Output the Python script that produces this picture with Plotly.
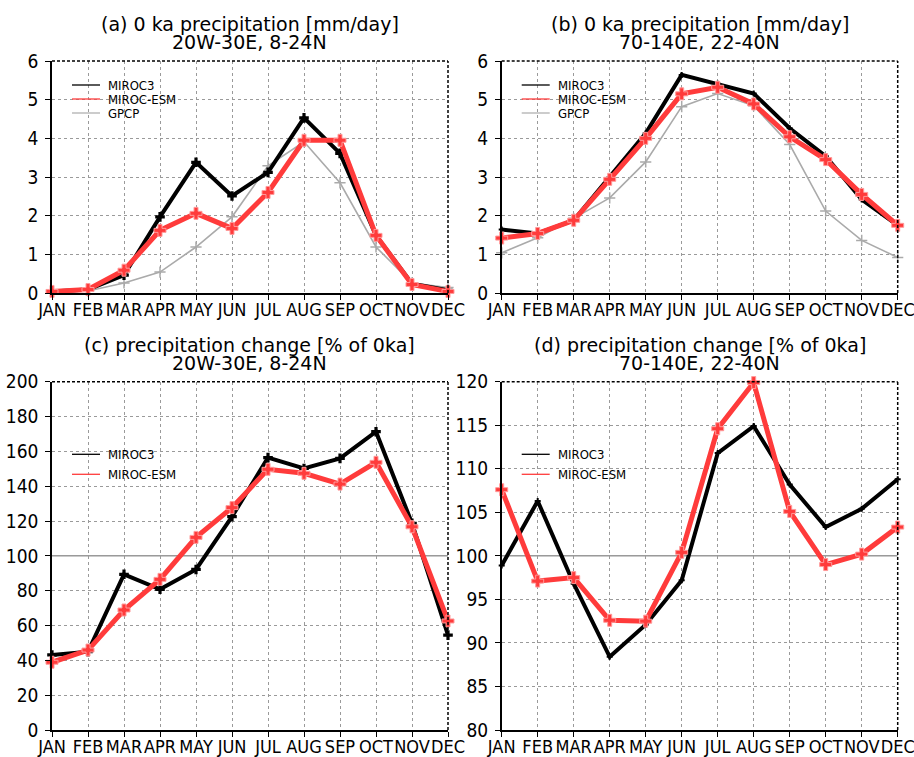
import plotly.graph_objects as go

months = ["JAN", "FEB", "MAR", "APR", "MAY", "JUN", "JUL", "AUG", "SEP", "OCT", "NOV", "DEC"]

# (a) 0 ka precipitation, 20W-30E, 8-24N [mm/day]
a_miroc3 = [0.04, 0.09, 0.46, 1.97, 3.38, 2.51, 3.12, 4.53, 3.61, 1.49, 0.24, 0.07]
a_esm = [0.04, 0.09, 0.59, 1.62, 2.06, 1.67, 2.60, 3.95, 3.95, 1.49, 0.22, 0.04]
a_gpcp = [0.03, 0.05, 0.26, 0.54, 1.19, 1.97, 3.29, 3.91, 2.85, 1.19, 0.26, 0.14]

# (b) 0 ka precipitation, 70-140E, 22-40N [mm/day]
b_miroc3 = [1.64, 1.54, 1.88, 3.00, 4.13, 5.64, 5.41, 5.16, 4.26, 3.54, 2.42, 1.75]
b_esm = [1.42, 1.54, 1.88, 2.94, 4.00, 5.15, 5.32, 4.89, 4.04, 3.45, 2.55, 1.75]
b_gpcp = [1.04, 1.43, 1.93, 2.46, 3.39, 4.82, 5.16, 4.84, 3.84, 2.12, 1.36, 0.92]

# (c) precipitation change [% of 0ka], 20W-30E, 8-24N
c_miroc3 = [43.1, 45.0, 89.4, 80.8, 92.2, 122.5, 156.4, 150.2, 156.0, 171.3, 118.7, 54.5]
c_esm = [38.9, 45.9, 68.9, 86.5, 110.6, 127.7, 149.7, 147.4, 141.2, 153.7, 116.7, 62.6]

# (d) precipitation change [% of 0ka], 70-140E, 22-40N
d_miroc3 = [98.9, 106.3, 96.8, 88.4, 92.1, 97.2, 111.8, 114.9, 108.2, 103.3, 105.4, 108.8]
d_esm = [107.6, 97.1, 97.5, 92.6, 92.5, 100.4, 114.6, 119.9, 105.1, 99.0, 100.2, 103.3]

titles = [
    ("(a) 0 ka precipitation [mm/day]", "20W-30E, 8-24N"),
    ("(b) 0 ka precipitation [mm/day]", "70-140E, 22-40N"),
    ("(c) precipitation change [% of 0ka]", "20W-30E, 8-24N"),
    ("(d) precipitation change [% of 0ka]", "70-140E, 22-40N"),
]

W, H = 914, 757
BLACK = "#000000"
RED = "#ff3b3b"
GRAY = "#aaaaaa"
FONT = "DejaVu Sans Condensed, Liberation Sans Narrow, Liberation Sans, sans-serif"
TFONT = "DejaVu Sans, sans-serif"

# panel boxes in pixels: (left, right, top, bottom)
boxes = [(52, 448, 61, 293), (501.7, 897.7, 61, 293),
         (52, 448, 381.7, 730), (501.7, 897.7, 381.7, 730)]

fig = go.Figure()

def dom(box):
    l, r, t, b = box
    return [l / W, r / W], [1 - b / H, 1 - t / H]

panels = [
    dict(series=[(a_miroc3, "MIROC3"), (a_esm, "MIROC-ESM"), (a_gpcp, "GPCP")], yr=[0, 6], dt=1, ref=None, bm=True),
    dict(series=[(b_miroc3, "MIROC3"), (b_esm, "MIROC-ESM"), (b_gpcp, "GPCP")], yr=[0, 6], dt=1, ref=None, bm=False),
    dict(series=[(c_miroc3, "MIROC3"), (c_esm, "MIROC-ESM")], yr=[0, 200], dt=20, ref=100, bm=True),
    dict(series=[(d_miroc3, "MIROC3"), (d_esm, "MIROC-ESM")], yr=[80, 120], dt=5, ref=100, bm=False),
]

styles = {
    "MIROC3": dict(color=BLACK, width=4),
    "MIROC-ESM": dict(color=RED, width=5),
    "GPCP": dict(color=GRAY, width=1.6),
}

layout = {}
for i, p in enumerate(panels):
    n = "" if i == 0 else str(i + 1)
    xa, ya = "x" + n, "y" + n
    xd, yd = dom(boxes[i])
    order = sorted(p["series"], key=lambda s: {"GPCP": 0, "MIROC3": 1, "MIROC-ESM": 2}[s[1]])
    for vals, name in order:
        st = styles[name]
        if name == "MIROC3":
            mk = dict(symbol="cross", size=8 if p["bm"] else 5, color=BLACK)
        elif name == "MIROC-ESM":
            mk = dict(symbol="cross", size=10, color=RED, line=dict(color="#ff9a9a", width=1))
        else:
            mk = dict(symbol="cross-thin", size=8, color=GRAY, line=dict(color=GRAY, width=1.5))
        fig.add_trace(go.Scatter(
            x=months, y=vals, mode="lines+markers", name=name, showlegend=False,
            line=dict(color=st["color"], width=st["width"]), marker=mk,
            xaxis=xa, yaxis=ya, cliponaxis=False))
    layout["xaxis" + n] = dict(
        domain=xd, anchor=ya, type="category", categoryorder="array", categoryarray=months,
        range=[0, 11], showgrid=True, gridcolor="#9a9a9a", griddash="dot", gridwidth=1,
        showline=True, linecolor=BLACK, linewidth=1.5, ticks="outside", ticklen=5,
        tickcolor=BLACK, tickfont=dict(family=FONT, size=18, color=BLACK), zeroline=False,
        tickangle=0, ticklabelstandoff=-5)
    layout["yaxis" + n] = dict(
        domain=yd, anchor=xa, range=p["yr"], dtick=p["dt"], tick0=p["yr"][0],
        showgrid=True, gridcolor="#9a9a9a", griddash="dot", gridwidth=1,
        showline=True, linecolor=BLACK, linewidth=1.5, ticks="outside", ticklen=5,
        tickcolor=BLACK, tickfont=dict(family=FONT, size=19, color=BLACK), zeroline=False,
        ticklabelstandoff=3)

shapes = []
annotations = []
for i, p in enumerate(panels):
    n = "" if i == 0 else str(i + 1)
    xa, ya = "x" + n, "y" + n
    shapes.append(dict(type="line", xref=xa + " domain", yref=ya + " domain", x0=0, x1=1, y0=1, y1=1,
                       line=dict(color=BLACK, width=1.5, dash="3px,2px")))
    shapes.append(dict(type="line", xref=xa + " domain", yref=ya + " domain", x0=1, x1=1, y0=0, y1=1,
                       line=dict(color=BLACK, width=1.5, dash="3px,2px")))
    if p["ref"] is not None:
        shapes.append(dict(type="line", xref=xa + " domain", yref=ya, x0=0, x1=1, y0=p["ref"], y1=p["ref"],
                           line=dict(color="#666666", width=1), layer="below"))
    l, r, t, b = boxes[i]
    cx = (l + r) / 2 / W
    t1, t2 = titles[i]
    annotations.append(dict(text=t1, x=cx, y=1 - (t - 37) / H, xref="paper", yref="paper",
                            showarrow=False, font=dict(family=TFONT, size=19, color=BLACK),
                            xanchor="center", yanchor="middle"))
    annotations.append(dict(text=t2, x=cx, y=1 - (t - 19) / H, xref="paper", yref="paper",
                            showarrow=False, font=dict(family=TFONT, size=19, color=BLACK),
                            xanchor="center", yanchor="middle"))
    names = [s[1] for s in p["series"]]
    if len(names) == 3:
        rows = [t + 24, t + 38, t + 52]
    else:
        rows = [t + 72.6, t + 92.6]
    hgt = b - t
    for nm, ry in zip(names, rows):
        yy = 1 - (ry - t) / hgt
        shapes.append(dict(type="line", xref=xa + " domain", yref=ya + " domain",
                           x0=20 / 396, x1=48 / 396, y0=yy, y1=yy,
                           line=dict(color=styles[nm]["color"] if nm != "GPCP" else "#b0b0b0", width=1.3)))
        annotations.append(dict(text=nm, xref=xa + " domain", yref=ya + " domain",
                                x=54 / 396, y=yy, showarrow=False, xanchor="left", yanchor="middle",
                                font=dict(family=FONT, size=13, color=BLACK)))

fig.update_layout(
    width=W, height=H, paper_bgcolor="white", plot_bgcolor="white",
    margin=dict(l=0, r=0, t=0, b=0, autoexpand=False),
    showlegend=False, shapes=shapes, annotations=annotations, **layout)

fig.write_html("out.html", config={"displayModeBar": False},
               post_script="document.body.style.margin='0';")
